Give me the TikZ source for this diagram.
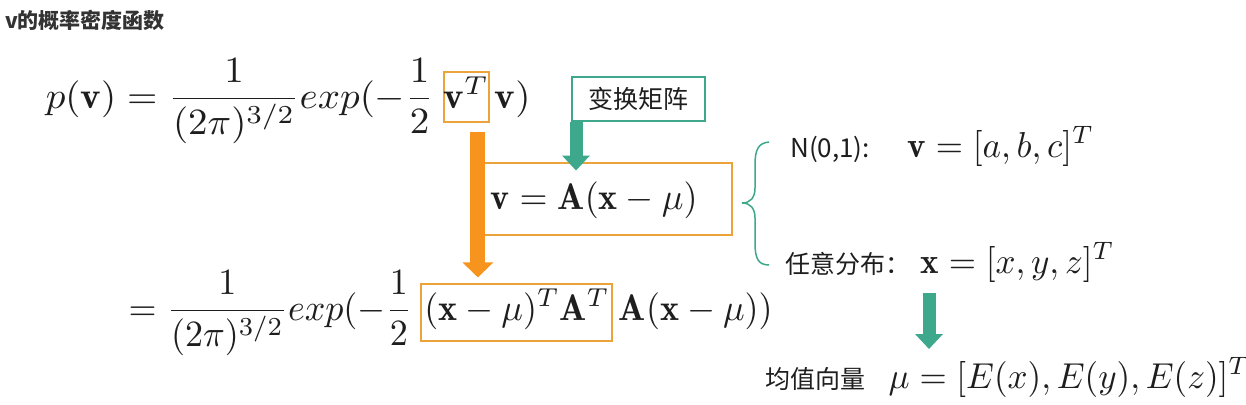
\documentclass[tikz,border=0pt]{standalone}
\usepackage{fontspec}
\newfontfamily\cjk{Noto Sans CJK SC}
\usetikzlibrary{arrows.meta,calc}
\definecolor{obox}{RGB}{236,163,58}
\definecolor{oarr}{RGB}{247,148,30}
\definecolor{teal1}{RGB}{62,168,140}
\definecolor{txt}{RGB}{30,30,30}
\definecolor{ttl}{RGB}{51,51,51}
\begin{document}
\begin{tikzpicture}[x=1pt,y=-1pt,
  m/.style={inner sep=0pt, xscale=3.9, yscale=3.7, text=txt},
  mb/.style={inner sep=0pt, xscale=3.6, yscale=3.7, text=txt},
  mr/.style={inner sep=0pt, xscale=3.5, yscale=3.6, text=txt},
  cj/.style={inner sep=0pt, font=\cjk\fontsize{25}{30}\selectfont, text=txt},
  obx/.style={draw=obox, line width=2pt},
  tbx/.style={draw=teal1, line width=2pt, inner sep=0pt},
  oarrow/.style={draw=oarr, line width=15pt, -{Triangle[length=15pt,width=30pt]}},
  tarrow/.style={draw=teal1, line width=13pt, -{Triangle[length=15pt,width=27pt]}},
]
\useasboundingbox (0,0) rectangle (1246,404);
\fill[white] (0,0) rectangle (1246,404);

% title
\node[anchor=west, inner sep=0pt, font=\cjk\bfseries\fontsize{21}{24}\selectfont, text=ttl] (title) at (5,20) {v的概率密度函数};

% equation 1
\node[m, anchor=base west] (e1a) at (45,108) {$\displaystyle p(\mathbf{v}) = \frac{1}{(2\pi)^{3/2}}exp(-\frac{1}{2}$};
\node[m, obx, anchor=base west, inner xsep=0pt, inner ysep=0pt, text height=9.7pt, text depth=3.8pt] (e1b) at ([xshift=5pt]e1a.base east) {$\mathbf{v}^T$};
\node[m, anchor=base west] (e1c) at ([xshift=1pt]e1b.base east) {$\mathbf{v})$};

% transform matrix box
\node[tbx, cj, minimum width=133pt, minimum height=44pt] (tb) at (638,99) {变换矩阵};

% v = A(x-mu) box
\node[obx, minimum width=255pt, minimum height=72pt, inner sep=0pt] (boxv) at (604.5,198.5) {};
\node[mb, anchor=base west] (veq) at (490,209) {$\mathbf{v} = \mathbf{A}(\mathbf{x}-\mu)$};

% equation 2
\node[mb, anchor=base west] (e2a) at (128,320) {$\displaystyle = \frac{1}{(2\pi)^{3/2}}exp(-\frac{1}{2}$};
\node[mb, obx, anchor=base west, inner xsep=0.8pt, inner ysep=0pt, text height=9.7pt, text depth=5.7pt] (e2b) at ([xshift=5pt]e2a.base east) {$(\mathbf{x}-\mu)^T\mathbf{A}^T$};
\node[mb, anchor=base west] (e2c) at ([xshift=2pt]e2b.base east) {$\mathbf{A}(\mathbf{x}-\mu))$};

% arrows
\draw[oarrow, shorten <=6pt, shorten >=3pt] ([xshift=-15pt]e1b.south east) -- ([xshift=-15pt]e1b.south east |- e2b.north);
\draw[tarrow, shorten >=-9pt] ([xshift=5.5pt]tb.south west) -- ([xshift=5.5pt]tb.south west |- boxv.north);

% brace
\draw[teal1, line width=1.5pt] (769,142) .. controls (758,143) and (755,150) .. (755,165) -- (755,188) .. controls (755,198) and (750,203) .. (742,203) .. controls (750,203) and (755,208) .. (755,218) -- (755,243) .. controls (755,258) and (758,265) .. (769,265);

% right column
\node[inner sep=0pt, font=\cjk\fontsize{26}{30}\selectfont, text=txt, anchor=base west] (n01) at (790,157) {N(0,1):};
\node[mr, anchor=base west] (veq2) at (907,157) {$\mathbf{v}=[a,b,c]^T$};
\node[cj, anchor=base west] (rwx) at (785,273) {任意分布：};
\node[mr, anchor=base west] (xeq) at (920,273) {$\mathbf{x}=[x,y,z]^T$};
\node[cj, anchor=base west] (jz) at (765,388) {均值向量};
\node[mr, anchor=base west] (mueq) at (888,388) {$\mu=[E(x),E(y),E(z)]^T$};

\draw[tarrow, shorten <=10pt, shorten >=8pt] ([xshift=9pt]xeq.south west) -- ([xshift=9pt]xeq.south west |- mueq.north);
\end{tikzpicture}
\end{document}
